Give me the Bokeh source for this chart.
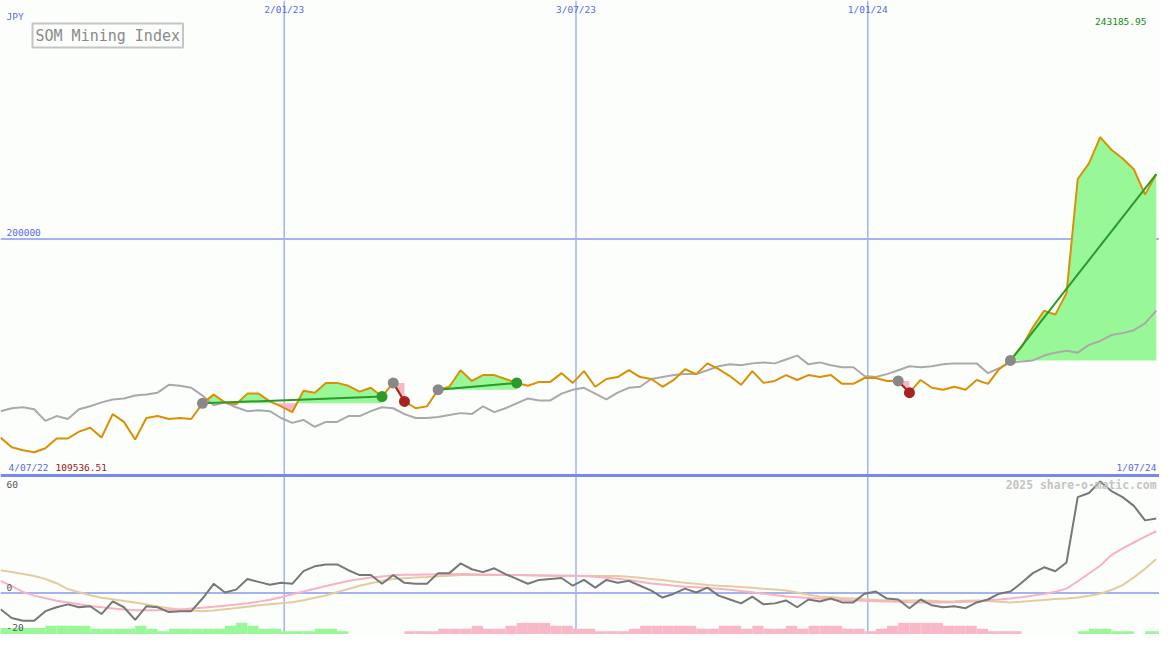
import numpy as np
import pandas as pd
from bokeh.plotting import figure
from bokeh.models import Range1d, Span, Label
from bokeh.embed import file_html
from bokeh.resources import INLINE

# ---------------- data ----------------
start_date = "2022-07-09"
n_weeks = 104

price = [115766, 111629, 110388, 109536.51, 111215, 115352, 115352, 118248, 119899, 115766,
         125695, 122386, 114938, 124040, 124868, 123627, 124040, 123627, 130246, 133969,
         130660, 129832, 134383, 134383, 131074, 128975, 126492, 135624, 134797, 138934,
         138934, 137692, 135210, 136865, 133142, 138934, 131074, 128174, 128975, 136038,
         137279, 144312, 139761, 142244, 142244, 140589, 138934, 137692, 139348, 139348,
         143071, 138934, 143898, 137279, 140589, 141416, 144312, 141416, 140589, 137279,
         140175, 144726, 142657, 147206, 144726, 141830, 138107, 143898, 138934, 139761,
         142244, 140175, 142244, 141416, 142244, 138520, 138520, 141002, 141002, 139761,
         139761, 134797, 140175, 136865, 136038, 137279, 136038, 140175, 138520, 144726,
         148449, 154200, 162515, 169547, 167893, 177003, 225397, 232017, 243185.95, 237808,
         234085, 229534, 218778, 227467]

compare = [126936, 128177, 128591, 127764, 122799, 124868, 123627, 127764, 129005, 130660,
           131901, 132314, 133555, 133969, 134797, 138106, 137692, 136865, 133555, 129418,
           130660, 128591, 126936, 127350, 126936, 124040, 121972, 123213, 120317, 122386,
           122386, 124868, 124868, 126936, 128591, 128177, 125695, 124040, 124040, 124454,
           125281, 126109, 125695, 129005, 126523, 128177, 130246, 132314, 131487, 131487,
           134383, 136038, 136865, 134383, 131901, 134797, 136865, 137279, 140588, 141416,
           142243, 142657, 142657, 144312, 145966, 146794, 146380, 147208, 147621, 147208,
           148862, 150517, 146794, 147621, 146380, 145553, 145553, 141829, 141416, 142657,
           144312, 145966, 145553, 145966, 146794, 147208, 147208, 147208, 143071, 145139,
           147621, 148035, 148449, 150517, 151758, 152586, 151758, 155068, 156723, 159205,
           160032, 161273, 164169, 169547]

osc = [-8.4, -12.9, -14.4, -14.4, -9.4, -7.4, -5.9, -7.4, -6.9, -10.9,
       -4.4, -7.4, -13.9, -6.9, -7.4, -9.9, -9.4, -9.4, -2.9, 4.7,
       0.2, 1.7, 7.2, 5.7, 4.2, 5.2, 4.7, 11.2, 13.7, 14.7,
       14.7, 11.7, 9.2, 9.2, 4.7, 9.2, 5.2, 4.7, 4.7, 10.2,
       10.2, 15.2, 12.2, 10.7, 12.7, 9.7, 7.2, 4.7, 6.7, 7.2,
       7.7, 3.7, 6.7, 2.7, 6.7, 5.2, 6.2, 3.7, 1.2, -2.4,
       -0.4, 2.2, 0.2, 2.7, -1.4, -3.4, -5.4, -1.9, -5.9, -5.4,
       -3.9, -7.4, -3.4, -4.4, -2.9, -4.9, -4.9, -0.4, 0.7, -2.9,
       -3.4, -7.9, -3.4, -6.4, -7.4, -6.9, -7.9, -4.9, -3.4, -0.4,
       0.7, 5.2, 10.2, 13.2, 11.2, 15.7, 49.4, 51.5, 57.5, 52.5,
       49.4, 44.9, 37.4, 38.4]

osc_fast = [6.2, 3.5, 0.5, -1.4, -2.8, -4.0, -4.9, -5.8, -6.8, -7.4,
            -8.0, -8.6, -8.9, -8.9, -8.9, -8.8, -8.5, -8.1, -7.7, -7.2,
            -6.6, -6.0, -5.3, -4.5, -3.5, -2.2, -0.7, 0.7, 2.1, 3.6,
            4.9, 6.1, 7.1, 7.9, 8.5, 9.1, 9.3, 9.4, 9.5, 9.6,
            9.6, 9.7, 9.6, 9.5, 9.4, 9.3, 9.2, 9.1, 9.0, 9.0,
            8.9, 8.8, 8.7, 8.3, 7.8, 7.3, 6.6, 5.8, 4.9, 4.3,
            3.7, 3.2, 2.9, 2.5, 2.2, 1.6, 1.0, 0.3, -0.4, -1.1,
            -1.8, -2.2, -2.6, -2.9, -3.3, -3.6, -3.9, -4.1, -4.3, -4.4,
            -4.6, -4.8, -4.9, -4.9, -4.9, -4.8, -4.6, -4.4, -3.9, -3.4,
            -2.9, -2.2, -1.4, -0.6, 0.6, 2.2, 6.0, 10.0, 14.0, 19.5,
            23.0, 26.0, 29.0, 31.8]

osc_slow = [11.7, 10.8, 9.8, 8.7, 7.2, 5.0, 2.0, 0.3, -1.2, -2.5,
            -3.3, -4.2, -5.0, -6.0, -7.0, -7.9, -8.5, -9.1, -9.4, -9.1,
            -8.4, -7.8, -7.1, -6.4, -5.8, -5.3, -4.8, -3.8, -2.5, -1.3,
            0.4, 2.0, 3.7, 5.0, 6.2, 7.2, 7.6, 7.9, 8.2, 8.6,
            8.9, 9.2, 9.2, 9.2, 9.2, 9.2, 9.2, 9.1, 9.0, 8.9,
            8.8, 8.8, 8.7, 8.7, 8.7, 8.7, 8.3, 7.8, 7.2, 6.6,
            5.9, 5.2, 4.7, 4.1, 3.7, 3.4, 3.0, 2.7, 2.2, 1.7,
            1.2, 0.2, -0.9, -1.9, -2.2, -2.6, -2.9, -3.3, -3.6, -3.9,
            -3.9, -3.9, -3.9, -4.1, -4.4, -4.3, -4.1, -3.9, -4.2, -4.6,
            -4.9, -4.6, -4.1, -3.6, -3.2, -2.9, -2.4, -1.5, -0.4, 1.5,
            4.0, 8.0, 12.5, 17.5]

osc_hist = [3.4, 3.4, 3.4, 3.4, 4.5, 4.5, 4.5, 4.5, 3.0, 3.0,
            3.0, 3.0, 4.5, 3.0, 1.7, 3.0, 3.0, 3.0, 3.0, 3.0,
            4.5, 6.0, 4.5, 3.0, 3.0, 1.7, 1.7, 1.7, 3.0, 3.0,
            1.7, 0, 0, 0, 0, 0, -1.7, -1.7, -1.7, -3.0,
            -3.0, -3.0, -4.5, -3.0, -3.0, -4.5, -6.0, -6.0, -6.0, -4.5,
            -4.5, -3.0, -3.0, -1.7, -1.7, -1.7, -3.0, -4.5, -4.5, -4.5,
            -4.5, -4.5, -3.0, -3.0, -4.5, -4.5, -3.0, -4.5, -3.0, -3.0,
            -4.5, -3.0, -4.5, -4.5, -4.5, -3.0, -3.0, -1.7, -3.0, -4.5,
            -6.0, -6.0, -6.0, -6.0, -4.5, -4.5, -4.5, -3.0, -1.7, -1.7,
            -1.7, 0, 0, 0, 0, 0, 1.7, 3.0, 3.0, 1.7,
            1.7, 0, 1.7, 1.7]

trade_entry = [18, 35, 39, 80, 90]
trade_exit = [34, 36, 46, 81, 103]
trade_open = [False, False, False, False, True]

grid_dates = ["2023-01-02", "2023-07-03", "2024-01-01"]
grid_labels = ["2/01/23", "3/07/23", "1/01/24"]
first_label = "4/07/22"
last_label = "1/07/24"
end_date = "2024-07-01"
price_level = 200000
osc_levels = [60, 0, -20]
currency = "JPY"
title = "SOM Mining Index"
credit = "2025 share-o-matic.com"

# ---------------- styling ----------------
W, H = 1159, 634
BG = "#fcfefc"
FONT = "DejaVu Sans Mono"
BLUE_TXT = "#5a68ec"
GRID = "#a4b2f2"
SEP = "#7888ee"
ORANGE = "#db9004"
GRAYL = "#a9a9a9"
GREEN_FILL = "#98f898"
PINK_FILL = "#f9b8c8"
TRADE_GREEN = "#2a9a2a"
TRADE_RED = "#a82222"

dates = pd.date_range(start_date, periods=n_weeks, freq="7D")
ms = (dates.asi8 // 10**6).astype(float)
week_ms = 7 * 24 * 3600 * 1000.0
price_a = np.array(price, dtype=float)

def to_ms(s):
    return pd.Timestamp(s).value / 1e6

top_start, top_end = 32224, 301104
panel_split = 99656
osc_start, osc_end = -21.45, 305.5

p = figure(width=W, height=H, x_range=Range1d(ms[0], to_ms(end_date)),
           y_range=Range1d(top_start, top_end),
           x_axis_location=None, y_axis_location=None,
           output_backend="svg", toolbar_location=None, min_border=0,
           background_fill_color=BG, border_fill_color=BG, outline_line_color=None)
p.grid.visible = False
p.extra_y_ranges = {"osc": Range1d(osc_start, osc_end)}

# grid / separators
for gd in grid_dates:
    p.add_layout(Span(location=to_ms(gd), dimension="height", line_color=GRID,
                      line_width=1.5, level="underlay"))
p.add_layout(Span(location=price_level, dimension="width", line_color=GRID,
                  line_width=2, level="underlay"))
p.add_layout(Span(location=0, dimension="width", line_color=GRID, line_width=2,
                  level="underlay", y_range_name="osc"))

# trade fills
def trade_path(i0, i1, level):
    xs, ys = [], []
    for i in range(i0, i1):
        x0, y0, x1, y1 = ms[i], price_a[i], ms[i + 1], price_a[i + 1]
        xs.append(x0); ys.append(y0)
        if (y0 - level) * (y1 - level) < 0:
            t = (level - y0) / (y1 - y0)
            xs.append(x0 + t * (x1 - x0)); ys.append(level)
    xs.append(ms[i1]); ys.append(price_a[i1])
    return np.array(xs), np.array(ys)

for e, x in zip(trade_entry, trade_exit):
    lvl = price_a[e]
    xs, ys = trade_path(e, x, lvl)
    base = np.full(len(xs), lvl)
    p.varea(x=xs, y1=base, y2=np.maximum(ys, lvl), fill_color=GREEN_FILL, fill_alpha=1)
    p.varea(x=xs, y1=np.minimum(ys, lvl), y2=base, fill_color=PINK_FILL, fill_alpha=1)

# histogram (lower panel, from bottom)
hist = np.array(osc_hist)
nz = hist != 0
p.quad(left=ms[nz], right=ms[nz] + week_ms, bottom=osc_start,
       top=osc_start + np.abs(hist[nz]),
       fill_color=[GREEN_FILL if h > 0 else PINK_FILL for h in hist[nz]],
       line_color=None, y_range_name="osc")

# lower lines
p.line(ms, osc_slow, line_color="#e4cc9e", line_width=2, y_range_name="osc")
p.line(ms, osc_fast, line_color="#f8b2c4", line_width=2, y_range_name="osc")
p.line(ms, osc, line_color="#777777", line_width=2, y_range_name="osc")

# separator between panels
p.add_layout(Span(location=panel_split, dimension="width", line_color=SEP, line_width=3))

# main lines
p.line(ms, compare, line_color=GRAYL, line_width=2)
p.line(ms, price, line_color=ORANGE, line_width=2)

# trade lines and markers
for e, x, op in zip(trade_entry, trade_exit, trade_open):
    win = price_a[x] >= price_a[e]
    col = TRADE_GREEN if win else TRADE_RED
    p.line([ms[e], ms[x]], [price_a[e], price_a[x]], line_color=col, line_width=2)
    p.scatter([ms[e]], [price_a[e]], size=11, fill_color="#888888", line_color=None)
    if not op:
        p.scatter([ms[x]], [price_a[x]], size=11, fill_color=col, line_color=None)

# ---------------- texts ----------------
def lab(x, y, text, color, size="9.5px", align="left", xu="screen", style="normal", **kw):
    p.add_layout(Label(x=x, y=y, x_units=xu, y_units="screen", text=text,
                       text_color=color, text_font=FONT, text_font_size=size,
                       text_align=align, text_baseline="middle",
                       text_font_style=style, **kw))

lab(6, 618, currency, BLUE_TXT)
for gd, gl in zip(grid_dates, grid_labels):
    lab(to_ms(gd), 625, gl, BLUE_TXT, align="center", xu="data")
lab(1146, 613, f"{max(price):.2f}", "#138a13", align="right")
lab(6, 402, f"{price_level}", BLUE_TXT)
lab(8, 167, first_label, BLUE_TXT)
lab(55, 167, f"{min(price):.2f}", "#a01818")
lab(1156, 167, last_label, BLUE_TXT, align="right")
for lv, yy in zip(osc_levels, [150, 47, 7]):
    lab(6, yy, f"{lv}", "#555555")
lab(1156, 150, credit, "#c4c4c4", size="11.4px", align="right", style="bold")
p.add_layout(Label(x=32, y=599, x_units="screen", y_units="screen", text=title,
                   text_color="#8a8a8a", text_font=FONT, text_font_size="15px",
                   text_baseline="middle", padding=3,
                   border_line_color="#c4c4c4", border_line_width=2,
                   background_fill_color=BG))

open("out.html", "w").write(file_html(p, INLINE))
